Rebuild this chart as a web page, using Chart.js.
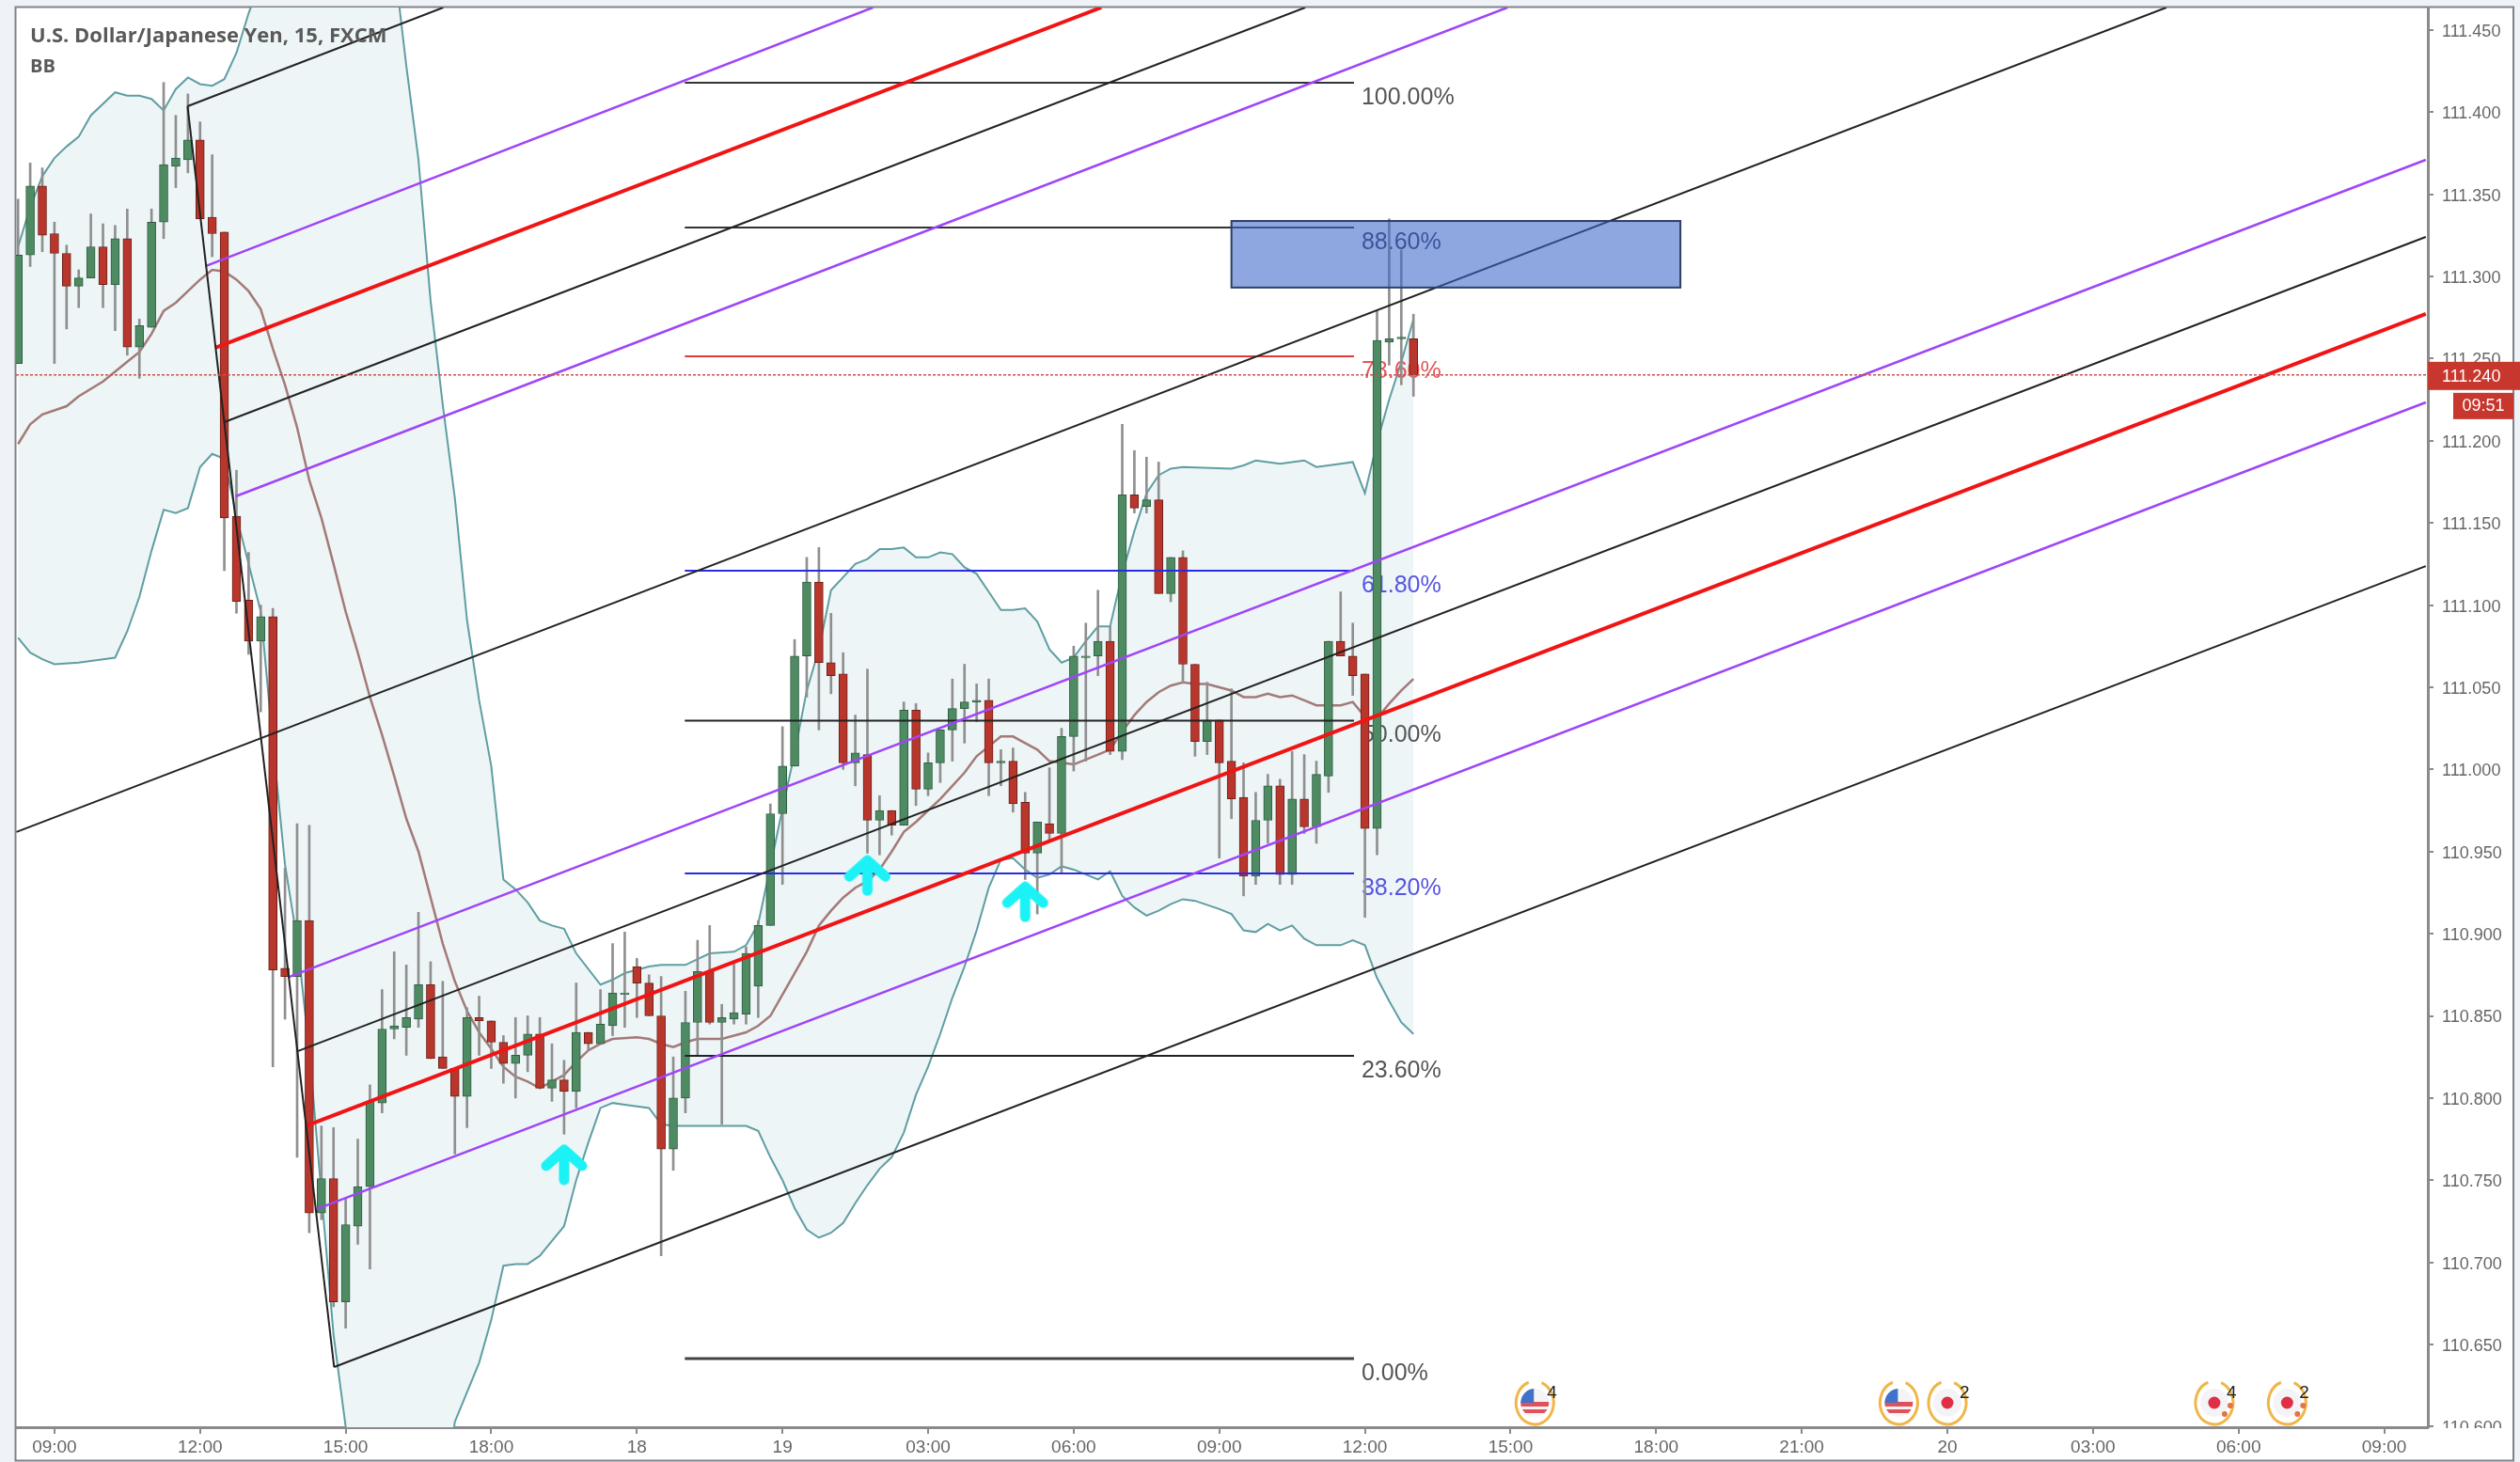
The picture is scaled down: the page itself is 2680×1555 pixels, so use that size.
<!DOCTYPE html>
<html>
<head>
<meta charset="utf-8">
<title>USD/JPY 15m</title>
<script src="https://cdn.jsdelivr.net/npm/chart.js@4/dist/chart.umd.min.js"></script>
<style>
  html, body { margin: 0; padding: 0; background: #eff2f6; }
  canvas { display: block; filter: blur(0.6px); }
</style>
</head>
<body>
<canvas id="fxChart" width="2680" height="1555"></canvas>
<script>
// bars are counted from the first 09:00 tick, one bar = 15 minutes
const firstBar = -3;

const opens = [
  111.247,111.313,111.355,111.326,111.314,111.294,111.299,111.318,111.295,111.323,
  111.257,111.269,111.333,111.367,111.371,111.383,111.336,111.327,111.154,111.103,
  111.078,111.093,110.879,110.874,110.908,110.730,110.751,110.676,110.722,110.746,
  110.797,110.842,110.843,110.848,110.869,110.825,110.818,110.801,110.849,110.847,
  110.834,110.821,110.826,110.839,110.806,110.811,110.804,110.840,110.833,110.844,
  110.863,110.880,110.870,110.850,110.769,110.800,110.846,110.877,110.846,110.848,
  110.851,110.868,110.905,110.973,111.002,111.069,111.114,111.065,111.058,111.004,
  111.009,110.969,110.975,110.966,111.036,110.988,111.004,111.024,111.037,111.041,
  111.042,111.004,111.005,110.980,110.949,110.967,110.961,111.020,111.068,111.069,
  111.078,111.011,111.167,111.160,111.164,111.107,111.129,111.064,111.017,111.030,
  111.005,110.983,110.935,110.969,110.990,110.936,110.982,110.965,110.996,111.078,
  111.069,111.058,110.964,111.260,111.262,111.262
];
const highs = [
  111.347,111.369,111.366,111.333,111.319,111.304,111.338,111.332,111.331,111.341,
  111.274,111.341,111.418,111.398,111.411,111.394,111.374,111.327,111.182,111.132,
  111.100,111.098,110.940,110.967,110.966,110.783,110.782,110.739,110.775,110.808,
  110.866,110.889,110.881,110.913,110.883,110.871,110.818,110.855,110.862,110.847,
  110.838,110.849,110.850,110.849,110.833,110.823,110.870,110.840,110.866,110.894,
  110.901,110.885,110.875,110.874,110.825,110.865,110.896,110.905,110.857,110.882,
  110.892,110.908,110.979,111.026,111.079,111.129,111.135,111.095,111.071,111.033,
  111.061,110.984,110.975,111.041,111.040,111.010,111.024,111.055,111.064,111.052,
  111.055,111.012,111.013,110.986,110.968,111.001,111.025,111.075,111.089,111.109,
  111.087,111.210,111.194,111.190,111.187,111.129,111.133,111.064,111.053,111.030,
  111.049,111.004,110.986,110.997,110.994,111.011,111.009,111.005,111.078,111.108,
  111.089,111.058,111.279,111.335,111.316,111.277
];
const lows = [
  111.247,111.306,111.315,111.247,111.268,111.281,111.299,111.281,111.267,111.252,
  111.238,111.269,111.323,111.354,111.363,111.335,111.312,111.121,111.095,111.070,
  111.035,110.819,110.848,110.764,110.718,110.726,110.673,110.660,110.711,110.696,
  110.791,110.836,110.826,110.843,110.824,110.818,110.766,110.782,110.826,110.818,
  110.809,110.800,110.816,110.806,110.798,110.778,110.794,110.829,110.833,110.838,
  110.843,110.849,110.850,110.704,110.756,110.791,110.826,110.845,110.784,110.845,
  110.845,110.849,110.905,110.930,111.002,111.044,111.024,111.046,111.000,110.990,
  110.949,110.948,110.960,110.966,110.978,110.984,110.992,111.005,111.016,111.029,
  110.984,110.990,110.974,110.933,110.912,110.957,110.937,110.999,111.005,111.057,
  111.009,111.006,111.156,111.156,111.107,111.102,111.053,111.008,111.009,110.946,
  110.970,110.923,110.930,110.955,110.930,110.930,110.961,110.955,110.986,111.069,
  111.045,110.910,110.948,111.246,111.234,111.227
];
const closes = [
  111.313,111.355,111.325,111.314,111.294,111.299,111.318,111.295,111.323,111.257,
  111.270,111.333,111.368,111.372,111.383,111.335,111.326,111.153,111.102,111.078,
  111.093,110.878,110.874,110.908,110.730,110.751,110.676,110.723,110.746,110.798,
  110.842,110.844,110.849,110.869,110.824,110.818,110.801,110.849,110.847,110.834,
  110.821,110.826,110.839,110.806,110.811,110.804,110.840,110.833,110.845,110.864,
  110.864,110.870,110.850,110.769,110.800,110.846,110.877,110.846,110.849,110.852,
  110.888,110.905,110.973,111.002,111.069,111.114,111.065,111.057,111.004,111.010,
  110.969,110.975,110.966,111.036,110.988,111.004,111.024,111.037,111.041,111.042,
  111.004,111.005,110.979,110.949,110.968,110.961,111.020,111.069,111.069,111.078,
  111.011,111.167,111.159,111.164,111.107,111.129,111.064,111.017,111.030,111.004,
  110.982,110.935,110.969,110.990,110.936,110.982,110.965,110.997,111.078,111.069,
  111.057,110.964,111.261,111.262,111.263,111.240
];

// bollinger bands, read at the bars where the line bends
// (k 18-27 upper and k 25-31 lower run off the chart, those are guesses)
const upperBars = [-3,-2,-1,0,1,2,3,5,6,7,8,9,10,11,12,13,14,15,16,17,18,20,24,26,27,28,29,30,31,32,33,34,35,36,37,38,39,40,41,42,43,45,46,47,48,49,50,52,54,56,57,58,59,60,61,62,63,64,65,66,67,68,69,70,71,72,73,74,75,76,77,78,79,80,81,82,83,84,85,86,87,88,89,90,91,92,93,97,98,99,100,101,102,103,104,105,106,107,108,109,110,111,112];
const upperBand = [111.318,111.342,111.361,111.372,111.379,111.385,111.398,111.412,111.410,111.410,111.408,111.401,111.414,111.421,111.417,111.416,111.420,111.436,111.460,111.480,111.520,111.600,111.660,111.620,111.560,111.491,111.428,111.371,111.285,111.222,111.165,111.091,111.042,111.002,110.933,110.927,110.919,110.908,110.905,110.903,110.888,110.869,110.872,110.876,110.878,110.880,110.881,110.881,110.888,110.889,110.893,110.906,110.941,110.976,111.010,111.048,111.073,111.109,111.117,111.125,111.128,111.134,111.134,111.135,111.129,111.129,111.132,111.131,111.123,111.119,111.108,111.097,111.097,111.098,111.090,111.073,111.065,111.068,111.078,111.087,111.087,111.119,111.145,111.168,111.179,111.183,111.184,111.183,111.185,111.188,111.187,111.186,111.187,111.188,111.184,111.185,111.186,111.187,111.168,111.199,111.225,111.248,111.274];
const lowerBars = [-3,-2,-1,0,2,4,5,6,7,8,9,10,11,12,13,14,15,16,17,18,19,20,21,22,23,24,25,28,31,33,34,35,36,37,38,39,40,41,42,43,44,45,46,47,48,49,50,51,52,56,57,58,59,60,61,62,63,64,65,66,67,68,69,70,71,72,73,74,75,76,77,78,79,80,81,82,83,84,85,86,87,88,89,90,91,92,93,94,96,97,98,99,100,101,102,103,104,106,107,108,109,110,111,112];
const lowerBand = [111.080,111.071,111.067,111.064,111.065,111.067,111.068,111.084,111.105,111.133,111.158,111.156,111.159,111.184,111.192,111.189,111.154,111.125,111.096,111.016,110.942,110.896,110.829,110.742,110.656,110.600,110.520,110.420,110.500,110.603,110.621,110.639,110.665,110.698,110.699,110.699,110.704,110.713,110.722,110.750,110.773,110.794,110.797,110.796,110.795,110.794,110.784,110.783,110.783,110.783,110.783,110.780,110.764,110.750,110.733,110.720,110.715,110.718,110.724,110.736,110.747,110.757,110.764,110.779,110.802,110.819,110.839,110.861,110.880,110.902,110.928,110.945,110.946,110.939,110.934,110.936,110.941,110.939,110.936,110.933,110.938,110.923,110.916,110.911,110.914,110.918,110.921,110.920,110.915,110.912,110.902,110.901,110.906,110.902,110.905,110.897,110.893,110.893,110.896,110.893,110.873,110.859,110.846,110.839];
const basisBars = [-3,-2,-1,1,2,4,6,7,8,9,10,11,12,13,14,15,16,17,18,19,20,21,22,23,24,25,26,27,28,29,30,31,32,33,34,35,36,37,38,39,40,41,42,43,44,45,46,48,49,50,51,52,53,55,56,57,58,59,60,61,62,63,64,65,66,67,68,69,70,71,72,73,74,75,76,77,78,79,80,81,82,83,84,85,86,87,88,89,90,91,92,93,94,95,96,97,98,99,100,101,102,103,104,106,107,108,109,110,111,112];
const basisBand = [111.198,111.210,111.216,111.221,111.227,111.236,111.248,111.254,111.265,111.279,111.284,111.291,111.298,111.304,111.303,111.298,111.291,111.280,111.256,111.234,111.208,111.176,111.153,111.125,111.096,111.071,111.044,111.021,110.996,110.970,110.950,110.922,110.894,110.871,110.853,110.840,110.830,110.819,110.813,110.810,110.806,110.810,110.814,110.822,110.829,110.833,110.836,110.837,110.836,110.833,110.831,110.834,110.836,110.836,110.838,110.840,110.844,110.850,110.863,110.876,110.889,110.905,110.914,110.922,110.928,110.932,110.939,110.950,110.962,110.968,110.975,110.982,110.990,110.998,111.008,111.014,111.020,111.020,111.016,111.012,111.005,111.004,111.003,111.006,111.009,111.012,111.023,111.033,111.041,111.047,111.051,111.053,111.052,111.052,111.050,111.048,111.044,111.044,111.046,111.044,111.045,111.042,111.039,111.039,111.041,111.032,111.031,111.040,111.048,111.055];

// pitchfork: [bar, price] at both ends of each line
const handleLine = [[10.97,111.4035],[23.05,110.6363]];
const upperBlackA = [[10.97,111.4035],[32.04,111.4636]];
const upperPurpleA = [[12.44,111.3062],[67.45,111.4636]];
const upperRed = [[13.26,111.2565],[86.27,111.4636]];
const upperBlackB = [[13.99,111.2113],[103.08,111.4636]];
const upperPurpleB = [[14.92,111.1661],[119.74,111.4636]];
const longBlack = [[-3.13,110.9619],[174.05,111.4636]];
const lowerPurpleA = [[19.33,110.8737],[195.43,111.3709]];
const lowerBlackA = [[20.03,110.8285],[195.43,111.3240]];
const lowerRed = [[20.81,110.7833],[195.43,111.2771]];
const lowerPurpleB = [[21.58,110.7324],[195.43,111.2233]];
const lowerBlackB = [[23.05,110.6363],[195.43,111.1237]];

// fibonacci retracement
const fibLabels = ['100.00%','88.60%','78.60%','61.80%','50.00%','38.20%','23.60%','0.00%'];
const fibPrices = [111.4178,111.3297,111.2513,111.1209,111.0296,110.9367,110.8257,110.6415];
const fibColors = ['#333333','#333333','#e23a3a','#2a2ae6','#222222','#2a2ae6','#222222','#444444'];
const fibTextColors = ['#555555','#333a55','#e2555a','#5555e0','#555555','#5555e0','#555555','#555555'];
const fibStart = 51.95, fibEnd = 107.1;

const zoneBars = [97.0, 134.0];
const zonePrices = [111.3337, 111.2932];

const arrowBars = [42, 67, 80];
const arrowPrices = [110.760, 110.936, 110.920];

const lastPrice = 111.240;
const lastPriceLabel = '111.240';
const countdown = '09:51';

const eventBars = [122, 152, 156, 178, 184];
const eventFlags = ['us', 'us', 'jp', 'jp', 'jp'];
const eventCounts = ['4', '', '2', '4', '2'];

const priceTicks = [111.45,111.40,111.35,111.30,111.25,111.20,111.15,111.10,111.05,111.00,110.95,110.90,110.85,110.80,110.75,110.70,110.65,110.60];
const timeTicks = [0,12,24,36,48,60,72,84,96,108,120,132,144,156,168,180,192];
const timeLabels = ['09:00','12:00','15:00','18:00','18','19','03:00','06:00','09:00','12:00','15:00','18:00','21:00','20','03:00','06:00','09:00'];

const FONT = '"Liberation Sans", Arial, sans-serif';
const toPoints = (bars, values) => bars.map((b, i) => ({ x: b, y: values[i] }));
const pairPoints = pair => pair.map(p => ({ x: p[0], y: p[1] }));

function lineSet(pair, color, width) {
    return {
        type: 'line', data: pairPoints(pair), borderColor: color, borderWidth: width,
        pointRadius: 0, order: 5, fill: false, tension: 0
    };
}

// cyan up arrow for the three entries
function makeArrow() {
    const c = document.createElement('canvas');
    c.width = 50; c.height = 46;
    const g = c.getContext('2d');
    g.strokeStyle = '#1cf2f5';
    g.lineWidth = 11;
    g.lineCap = 'round';
    g.lineJoin = 'round';
    g.beginPath();
    g.moveTo(6, 25); g.lineTo(25, 8); g.lineTo(44, 25);
    g.moveTo(25, 10); g.lineTo(25, 40);
    g.stroke();
    return c;
}

function drawEvent(ctx, x, y, flag, count, marks) {
    ctx.save();
    ctx.beginPath();
    ctx.arc(x, y, 15, 0, Math.PI * 2);
    ctx.clip();
    ctx.fillStyle = '#f4f4f6';
    ctx.fillRect(x - 16, y - 16, 32, 32);
    if (flag === 'us') {
        ctx.fillStyle = '#e0525a';
        ctx.fillRect(x - 16, y - 1, 32, 5);
        ctx.fillRect(x - 16, y + 7, 32, 4);
        ctx.fillStyle = '#3f72c8';
        ctx.fillRect(x - 16, y - 16, 15, 16);
    } else {
        ctx.fillStyle = '#e02f45';
        ctx.beginPath();
        ctx.arc(x, y, 6.5, 0, Math.PI * 2);
        ctx.fill();
    }
    ctx.restore();
    ctx.strokeStyle = '#f0b647';
    ctx.lineWidth = 3;
    ctx.beginPath();
    ctx.ellipse(x, y, 20, 23, 0, -1.2, Math.PI * 2 - 1.9);
    ctx.stroke();
    if (marks) {
        ctx.fillStyle = '#e8704a';
        ctx.beginPath();
        ctx.arc(x + 17, y + 3, 3, 0, Math.PI * 2);
        ctx.arc(x + 11, y + 12, 3, 0, Math.PI * 2);
        ctx.fill();
    }
    if (count) {
        ctx.fillStyle = '#222';
        ctx.font = '19px ' + FONT;
        ctx.textAlign = 'left';
        ctx.textBaseline = 'middle';
        ctx.fillText(count, x + 13, y - 10);
    }
}

const overlay = {
    id: 'overlay',
    beforeDraw(chart) {
        const ctx = chart.ctx;
        ctx.save();
        ctx.fillStyle = '#eff2f6';
        ctx.fillRect(0, 0, 2680, 1555);
        ctx.fillStyle = '#ffffff';
        ctx.fillRect(17, 8, 2656, 1545);
        ctx.strokeStyle = '#7d8389';
        ctx.lineWidth = 2;
        ctx.strokeRect(16.5, 7.5, 2656.5, 1546);
        ctx.restore();
    },
    // labels go over the band but under the candles
    afterDatasetDraw(chart, args) {
        if (args.index !== 2) return;
        const ctx = chart.ctx, x = chart.scales.x, y = chart.scales.y;
        ctx.save();
        ctx.font = '25px ' + FONT;
        ctx.textAlign = 'left';
        ctx.textBaseline = 'middle';
        fibLabels.forEach((t, i) => {
            ctx.fillStyle = fibTextColors[i];
            ctx.fillText(t, x.getPixelForValue(fibEnd) + 8, y.getPixelForValue(fibPrices[i]) + 16);
        });
        ctx.restore();
    },
    afterDatasetsDraw(chart) {
        const ctx = chart.ctx, x = chart.scales.x, y = chart.scales.y;
        ctx.save();
        // supply zone
        const left = x.getPixelForValue(zoneBars[0]), right = x.getPixelForValue(zoneBars[1]);
        const top = y.getPixelForValue(zonePrices[0]), bottom = y.getPixelForValue(zonePrices[1]);
        ctx.fillStyle = 'rgba(62,104,204,0.58)';
        ctx.fillRect(left, top, right - left, bottom - top);
        ctx.strokeStyle = '#2f3d63';
        ctx.lineWidth = 2;
        ctx.strokeRect(left, top, right - left, bottom - top);

        eventBars.forEach((b, i) => {
            drawEvent(ctx, x.getPixelForValue(b), chart.chartArea.bottom - 26, eventFlags[i], eventCounts[i], i >= 3);
        });

        ctx.fillStyle = '#5a5a5a';
        ctx.textAlign = 'left';
        ctx.textBaseline = 'middle';
        ctx.font = 'bold 22px "Open Sans", ' + FONT;
        ctx.fillText('U.S. Dollar/Japanese Yen, 15, FXCM', 32, 39);
        ctx.font = 'bold 20px "Open Sans", ' + FONT;
        ctx.fillText('BB', 32, 71);
        ctx.restore();
    },
    afterDraw(chart) {
        const ctx = chart.ctx, y = chart.scales.y;
        const py = y.getPixelForValue(lastPrice);
        ctx.save();
        // the bottom price tick is cut by the time axis strip
        ctx.fillStyle = '#ffffff';
        ctx.fillRect(2586, 1519, 86, 33);
        ctx.fillStyle = '#c8372d';
        ctx.fillRect(2582, py - 14, 98, 30);
        ctx.fillRect(2609, py + 19, 64, 28);
        ctx.fillStyle = '#ffffff';
        ctx.textBaseline = 'middle';
        ctx.textAlign = 'left';
        ctx.font = '18px ' + FONT;
        ctx.fillText(lastPriceLabel, 2597, py + 2);
        ctx.textAlign = 'center';
        ctx.fillText(countdown, 2641, py + 33);
        ctx.restore();
    }
};

function renderChart(ctxId) {
    const ctx = document.getElementById(ctxId).getContext('2d');
    const bars = opens.map((o, i) => i + firstBar);
    const bodyColors = opens.map((o, i) => closes[i] >= o ? '#4e8a62' : '#b8362b');
    const bodyEdges = opens.map((o, i) => closes[i] >= o ? '#2f5e42' : '#6e2019');

    new Chart(ctx, {
        data: {
            datasets: [
                {
                    type: 'line', data: toPoints(upperBars, upperBand), borderColor: '#5f9ea2', borderWidth: 2,
                    pointRadius: 0, tension: 0, order: 12, fill: { target: '+1' }, backgroundColor: '#edf5f6'
                },
                {
                    type: 'line', data: toPoints(lowerBars, lowerBand), borderColor: '#5f9ea2', borderWidth: 2,
                    pointRadius: 0, tension: 0, order: 11, fill: false
                },
                {
                    type: 'line', data: toPoints(basisBars, basisBand), borderColor: '#a37a78', borderWidth: 2.5,
                    pointRadius: 0, tension: 0, order: 10, fill: false
                },
                {
                    type: 'bar', data: bars.map((b, i) => ({ x: b, y: [lows[i], highs[i]] })),
                    backgroundColor: '#8f8f8f', barThickness: 2, borderWidth: 0, order: 9, grouped: false
                },
                {
                    type: 'bar', data: bars.map((b, i) => ({ x: b, y: [opens[i], closes[i]] })),
                    backgroundColor: bodyColors, borderColor: bodyEdges, borderWidth: 1, borderSkipped: false,
                    barThickness: 9, order: 8, grouped: false
                },
                lineSet(handleLine, '#222222', 2),
                lineSet(upperBlackA, '#222222', 2),
                lineSet(upperPurpleA, '#9f45f8', 2.5),
                lineSet(upperRed, '#f01414', 4),
                lineSet(upperBlackB, '#222222', 2),
                lineSet(upperPurpleB, '#9f45f8', 2.5),
                lineSet(longBlack, '#222222', 2),
                lineSet(lowerPurpleA, '#9f45f8', 2.5),
                lineSet(lowerBlackA, '#222222', 2),
                lineSet(lowerRed, '#f01414', 4),
                lineSet(lowerPurpleB, '#9f45f8', 2.5),
                lineSet(lowerBlackB, '#222222', 2),
                ...fibPrices.map((p, i) => lineSet([[fibStart, p], [fibEnd, p]], fibColors[i], i === 7 ? 3 : 2)),
                {
                    type: 'line', data: [{ x: -3.17, y: lastPrice }, { x: 195.6, y: lastPrice }],
                    borderColor: '#c8524a', borderWidth: 1.5, borderDash: [3, 2], pointRadius: 0, order: 4, fill: false
                },
                {
                    type: 'scatter', data: toPoints(arrowBars, arrowPrices),
                    pointStyle: makeArrow(), order: 1
                }
            ]
        },
        options: {
            responsive: false,
            animation: false,
            events: [],
            layout: { padding: { left: 17, top: 8, right: 7, bottom: 2 } },
            plugins: { legend: { display: false }, tooltip: { enabled: false }, title: { display: false } },
            scales: {
                x: {
                    type: 'linear', min: -3.17, max: 195.6, offset: false,
                    afterFit: s => { s.height = 35; },
                    afterBuildTicks: s => { s.ticks = timeTicks.map(v => ({ value: v })); },
                    border: { display: true, color: '#8a8a8a', width: 3 },
                    grid: { offset: false, drawOnChartArea: false, drawTicks: true, tickLength: 7, color: '#8a8a8a', lineWidth: 2 },
                    ticks: {
                        autoSkip: false, maxRotation: 0, padding: 3, color: '#666666',
                        font: { family: FONT, size: 19 },
                        callback: (v, i) => timeLabels[i]
                    }
                },
                y: {
                    type: 'linear', position: 'right', min: 110.5997, max: 111.4636,
                    afterFit: s => { s.width = 91; s.paddingTop = 0; s.paddingBottom = 0; },
                    afterBuildTicks: s => { s.ticks = priceTicks.map(v => ({ value: v })); },
                    border: { display: true, color: '#8a8a8a', width: 3 },
                    grid: { drawOnChartArea: false, drawTicks: true, tickLength: 6, color: '#8a8a8a', lineWidth: 2 },
                    ticks: {
                        autoSkip: false, padding: 9, color: '#666666', labelOffset: 2,
                        font: { family: FONT, size: 18 },
                        callback: v => v.toFixed(3)
                    }
                }
            }
        },
        plugins: [overlay]
    });
}

renderChart('fxChart');
</script>
</body>
</html>
